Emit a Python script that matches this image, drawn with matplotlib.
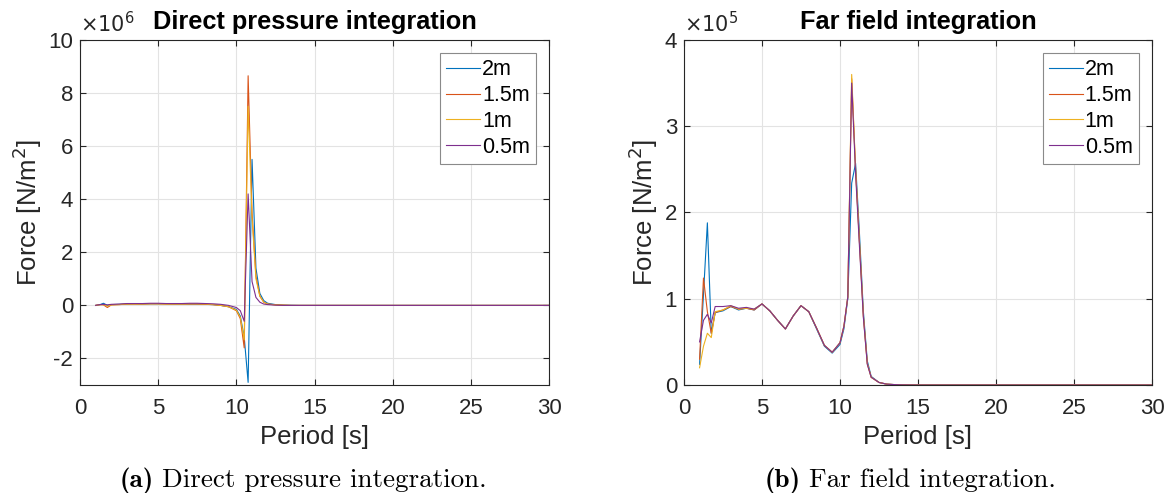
import numpy as np
import matplotlib.pyplot as plt

plt.rcParams['font.family'] = ['Liberation Sans', 'DejaVu Sans']
plt.rcParams['axes.unicode_minus'] = False

# wave periods [s]
period = [1, 1.25, 1.5, 1.75, 2, 2.5, 3, 3.5, 4, 4.5, 5, 5.5, 6, 6.5, 7, 7.5,
          8, 8.5, 9, 9.5, 10, 10.25, 10.5, 10.75, 11, 11.25, 11.5, 11.75, 12,
          12.5, 13, 13.5, 14, 15, 17, 20, 25, 30]

labels = ['2m', '1.5m', '1m', '0.5m']
colors = ['#0072BD', '#D95319', '#EDB120', '#7E2F8E']

# direct pressure integration, x 1e6 N/m^2
dp_2m = [0, 0.02, 0.08, 0.0, 0.03, 0.04, 0.05, 0.06, 0.05, 0.06, 0.06, 0.06,
         0.05, 0.05, 0.05, 0.05, 0.04, 0.03, 0.0, -0.05, -0.15, -0.4, -1.2,
         -2.9, 5.5, 1.4, 0.45, 0.18, 0.08, 0.03, 0.01, 0.005, 0, 0, 0, 0, 0, 0]
dp_15m = [0, 0.03, 0.02, -0.08, 0.02, 0.03, 0.05, 0.05, 0.05, 0.06, 0.06, 0.05,
          0.05, 0.05, 0.05, 0.05, 0.04, 0.03, 0.0, -0.05, -0.2, -0.5, -1.6,
          8.65, 3.5, 1.1, 0.35, 0.12, 0.05, 0.02, 0.01, 0, 0, 0, 0, 0, 0, 0]
dp_1m = [0, 0.02, 0.03, -0.03, 0.02, 0.03, 0.05, 0.05, 0.05, 0.06, 0.06, 0.05,
         0.05, 0.05, 0.06, 0.06, 0.05, 0.03, 0.0, -0.05, -0.18, -0.45, -1.3,
         7.5, 3.3, 1.0, 0.35, 0.12, 0.05, 0.02, 0.01, 0, 0, 0, 0, 0, 0, 0]
dp_05m = [0, 0.03, 0.04, 0.02, 0.04, 0.05, 0.07, 0.07, 0.07, 0.08, 0.08, 0.07,
          0.07, 0.07, 0.08, 0.08, 0.07, 0.06, 0.04, 0.0, -0.08, -0.2, -0.6,
          4.2, 0.9, 0.3, 0.12, 0.05, 0.03, 0.01, 0, 0, 0, 0, 0, 0, 0, 0]

# far field integration, x 1e5 N/m^2
ff_2m = [0.24, 1.05, 1.88, 0.6, 0.84, 0.86, 0.91, 0.87, 0.89, 0.87, 0.94, 0.86,
         0.75, 0.65, 0.80, 0.92, 0.85, 0.65, 0.45, 0.37, 0.47, 0.65, 1.0,
         2.34, 2.57, 1.75, 0.85, 0.28, 0.1, 0.03, 0.01, 0.005, 0.002, 0, 0, 0, 0, 0]
ff_15m = [0.3, 1.24, 0.85, 0.6, 0.84, 0.87, 0.91, 0.88, 0.89, 0.87, 0.94, 0.86,
          0.75, 0.65, 0.80, 0.92, 0.85, 0.66, 0.46, 0.38, 0.49, 0.68, 1.02,
          3.55, 2.5, 1.65, 0.8, 0.25, 0.09, 0.03, 0.01, 0.005, 0.002, 0, 0, 0, 0, 0]
ff_1m = [0.2, 0.45, 0.6, 0.55, 0.85, 0.87, 0.92, 0.88, 0.89, 0.88, 0.94, 0.86,
         0.75, 0.65, 0.80, 0.92, 0.85, 0.66, 0.46, 0.38, 0.49, 0.68, 1.02,
         3.6, 2.5, 1.65, 0.8, 0.25, 0.09, 0.03, 0.01, 0.005, 0.002, 0, 0, 0, 0, 0]
ff_05m = [0.5, 0.75, 0.82, 0.72, 0.91, 0.91, 0.92, 0.89, 0.90, 0.88, 0.94, 0.86,
          0.75, 0.65, 0.80, 0.92, 0.85, 0.66, 0.46, 0.38, 0.49, 0.68, 1.02,
          3.5, 2.45, 1.6, 0.78, 0.24, 0.09, 0.03, 0.01, 0.005, 0.002, 0, 0, 0, 0, 0]

fig = plt.figure(figsize=(11.73, 4.93), dpi=100)
ax1 = fig.add_axes([0.0682, 0.219, 0.400, 0.700])
ax2 = fig.add_axes([0.5831, 0.219, 0.399, 0.700])

dark = '#262626'


def style(ax, yticks, ylim, title, mult):
    ax.set_xlim(0, 30)
    ax.set_ylim(*ylim)
    ax.set_xticks([0, 5, 10, 15, 20, 25, 30])
    ax.set_yticks(yticks)
    ax.grid(True, color='#e3e3e3', linewidth=0.8)
    ax.set_axisbelow(True)
    ax.tick_params(direction='in', top=True, right=True, length=4,
                   labelsize=16, colors=dark)
    ax.tick_params(axis='x', pad=9)
    ax.tick_params(axis='y', pad=5)
    for s in ax.spines.values():
        s.set_color(dark)
        s.set_linewidth(0.8)
    ax.set_xlabel('Period [s]', fontsize=18.5, color=dark, labelpad=5)
    ax.set_ylabel('Force [N/m$^2$]', fontsize=18.5, color=dark, labelpad=3)
    ax.set_title(title, fontsize=18.3, fontweight='bold', pad=8)
    ax.text(0.0, 1.012, r'$\times10^{%d}$' % mult, transform=ax.transAxes,
            fontsize=15, color=dark, ha='left', va='bottom')
    leg = ax.legend(loc='upper right', fontsize=15.5, handlelength=1.55,
                    handletextpad=0.1, borderpad=0.3, labelspacing=0.22,
                    fancybox=False, borderaxespad=0.6, framealpha=1)
    leg.get_frame().set_edgecolor('#8a8a8a')
    leg.get_frame().set_linewidth(0.8)


for ys, c, lab in zip([dp_2m, dp_15m, dp_1m, dp_05m], colors, labels):
    ax1.plot(period, ys, color=c, linewidth=0.8, label=lab)
for ys, c, lab in zip([ff_2m, ff_15m, ff_1m, ff_05m], colors, labels):
    ax2.plot(period, ys, color=c, linewidth=0.8, label=lab)

style(ax1, [-2, 0, 2, 4, 6, 8, 10], (-3, 10), 'Direct pressure integration', 6)
style(ax2, [0, 1, 2, 3, 4], (0, 4), 'Far field integration', 5)

# captions: bold tag followed by roman text
renderer = fig.canvas.get_renderer()
for x0, tag, txt in [(120, '(a)', 'Direct pressure integration.'),
                     (765, '(b)', 'Far field integration.')]:
    t = fig.text(x0 / 1173, 0.013, tag, fontfamily='cmb10', fontsize=19.5)
    bb = t.get_window_extent(renderer)
    fig.text((bb.x1 + 8) / 1173, 0.013, txt, fontfamily='cmr10', fontsize=19.5)

fig.savefig('out.png', dpi=100)
